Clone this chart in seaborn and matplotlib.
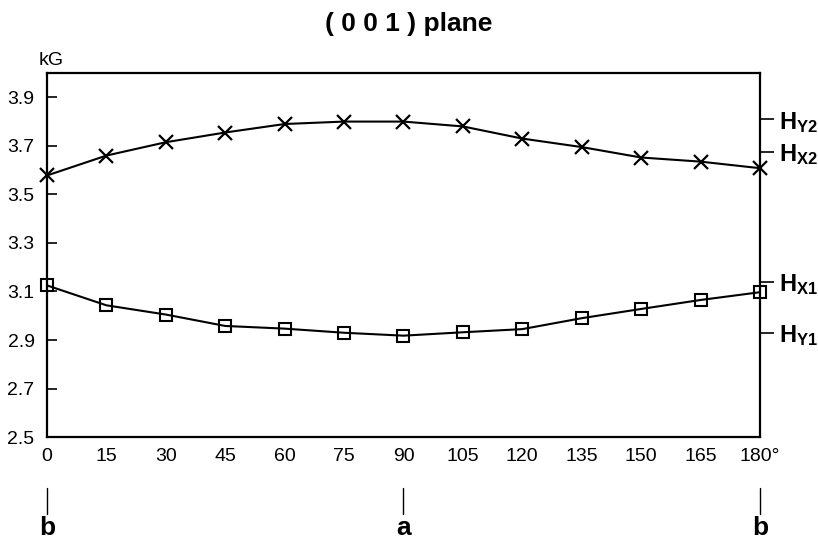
import numpy as np
import pandas as pd
import matplotlib
matplotlib.use("Agg")
import matplotlib.pyplot as plt
import seaborn as sns

angles = [0, 15, 30, 45, 60, 75, 90, 105, 120, 135, 150, 165, 180]
upper = [3.578, 3.66, 3.715, 3.755, 3.79, 3.80, 3.80, 3.78, 3.73, 3.695, 3.652, 3.635, 3.608]
lower = [3.125, 3.043, 3.005, 2.958, 2.947, 2.93, 2.918, 2.932, 2.945, 2.99, 3.028, 3.065, 3.097]
xtick_labels = ["0", "15", "30", "45", "60", "75", "90", "105", "120", "135", "150", "165", "180°"]
ytick_vals = [2.5, 2.7, 2.9, 3.1, 3.3, 3.5, 3.7, 3.9]
right_vals = [3.81, 3.675, 3.14, 2.93]
right_labels = [r"$\mathbf{H_{Y2}}$", r"$\mathbf{H_{X2}}$", r"$\mathbf{H_{X1}}$", r"$\mathbf{H_{Y1}}$"]
axis_marks = [(0, "b"), (90, "a"), (180, "b")]

sns.set_theme(style="white")
plt.rcParams["font.family"] = ["Liberation Sans", "DejaVu Sans"]
plt.rcParams["mathtext.fontset"] = "custom"
plt.rcParams["mathtext.bf"] = "Liberation Sans:bold"
plt.rcParams["mathtext.rm"] = "Liberation Sans"
plt.rcParams["text.color"] = "black"
plt.rcParams["xtick.color"] = "black"
plt.rcParams["ytick.color"] = "black"

df_up = pd.DataFrame({"angle": angles, "H": upper})
df_lo = pd.DataFrame({"angle": angles, "H": lower})

fig = plt.figure(figsize=(8.18, 5.41), dpi=100)
ax = fig.add_axes([0.0575, 0.192, 0.8715, 0.673])

sns.lineplot(data=df_up, x="angle", y="H", color="black", marker="x",
             linewidth=1.5, markersize=10, ax=ax, clip_on=False, zorder=5,
             markeredgecolor="black", markeredgewidth=1.6)
sns.lineplot(data=df_lo, x="angle", y="H", color="black", marker="s",
             linewidth=1.5, markersize=8.5, ax=ax, clip_on=False, zorder=5,
             markerfacecolor="none", markeredgecolor="black", markeredgewidth=1.5)

ax.set_xlim(0, 180)
ax.set_ylim(2.5, 4.0)
ax.set_xticks(angles)
ax.set_xticklabels(xtick_labels, fontsize=14)
ax.set_yticks(ytick_vals)
ax.set_yticklabels([f"{v:.1f}" for v in ytick_vals], fontsize=14)
ax.tick_params(axis="both", direction="in", length=7, width=1.2, colors="black", pad=8)
ax.tick_params(axis="y", pad=9)
ax.set_xlabel("")
ax.set_ylabel("")
for s in ax.spines.values():
    s.set_visible(True)
    s.set_color("black")
    s.set_linewidth(1.6)

ax2 = ax.twinx()
ax2.set_ylim(ax.get_ylim())
ax2.set_yticks(right_vals)
ax2.set_yticklabels(right_labels, fontsize=17)
ax2.tick_params(axis="y", direction="out", length=10, width=1.2, colors="black", pad=4)
for s in ax2.spines.values():
    s.set_visible(False)

ax.text(-0.012, 1.012, "kG", transform=ax.transAxes, fontsize=14, ha="left", va="bottom")
fig.text(0.5, 0.955, "( 0 0 1 ) plane", ha="center", va="center", fontsize=19, fontweight="bold")

trans = ax.get_xaxis_transform()
for xv, lab in axis_marks:
    ax.plot([xv, xv], [-0.14, -0.21], transform=trans, color="black", lw=1.0, clip_on=False)
    ax.text(xv, -0.25, lab, transform=trans, ha="center", va="center",
            fontsize=19, fontweight="bold")

fig.savefig("out.png", dpi=100, facecolor="white")
